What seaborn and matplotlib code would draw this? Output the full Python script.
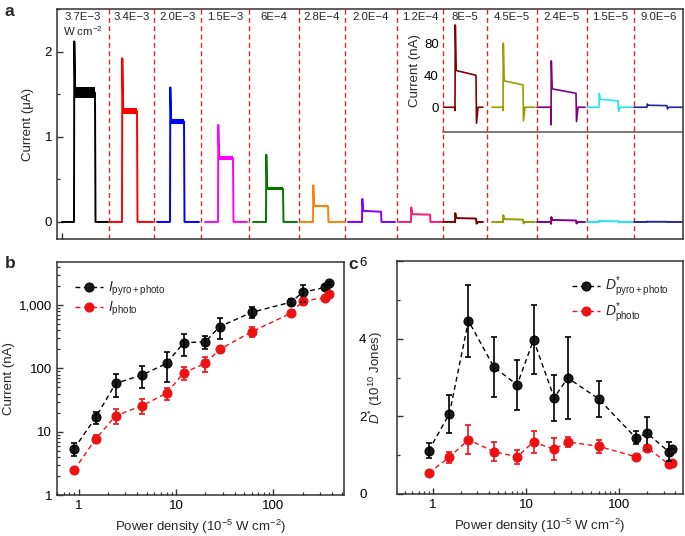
import numpy as np
import pandas as pd
import matplotlib
matplotlib.use('Agg')
from matplotlib import pyplot as plt
from matplotlib import transforms
from matplotlib.ticker import FuncFormatter, NullFormatter, MultipleLocator
import seaborn as sns

# ---- panel a : current traces, one per power density (time in s, current in uA)
seg_labels = ['3.7E\u22123', '3.4E\u22123', '2.0E\u22123', '1.5E\u22123', '6E\u22124', '2.8E\u22124',
              '2.0E\u22124', '1.2E\u22124', '8E\u22125', '4.5E\u22125', '2.4E\u22125', '1.5E\u22125',
              '9.0E\u22126']
seg_edges = [52, 97, 144, 192, 242, 288, 340, 386, 430, 480, 530, 577]
t_start = [5, 52, 100, 148, 196, 244, 291, 342, 386, 435, 480, 530, 577]
t_on = [17, 65, 113, 161, 209, 256, 305, 354, 398, 446, 494, 542, 590]
t_off = [38, 80, 127, 176, 226, 271, 324, 373, 419, 466, 519, 561, 610]
t_end = [51, 96, 142, 190, 240, 288, 338, 386, 426, 478, 528, 576, 626]
i_spike = [2.12, 1.92, 1.58, 1.14, 0.79, 0.43, 0.27, 0.17, 0.103, 0.080, 0.058, 0.017, 0.004]
i_settle = [1.55, 1.32, 1.19, 0.76, 0.40, 0.19, 0.13, 0.092, 0.046, 0.033, 0.023, 0.010, 0.0025]
i_plateau = [1.52, 1.30, 1.18, 0.75, 0.39, 0.185, 0.12, 0.086, 0.040, 0.028, 0.0175, 0.008, 0.002]
i_dip_on = [0, 0, 0, 0, 0, 0, 0, 0, -0.004, -0.004, -0.022, 0, 0]
i_dip_off = [0, 0, 0, 0, 0, 0, 0, 0, -0.020, -0.017, -0.018, -0.005, -0.002]
i_noise = [0.065, 0.035, 0.03, 0.02, 0.015, 0.01, 0, 0, 0, 0, 0, 0, 0]
seg_colors = ['#000000', '#ff0000', '#0000ff', '#ff00ff', '#007800', '#ff8000', '#8000ff',
              '#ff1a75', '#800000', '#999900', '#800080', '#22e6e6', '#262699']

# ---- panels b, c : power density (1e-5 W cm-2)
power = [0.9, 1.5, 2.4, 4.5, 8, 12, 20, 28, 60, 150, 200, 340, 370]
i_pyro = [5.4, 16.9, 58, 79, 120, 255, 264, 456, 770, 1110, 1590, 1910, 2210]
i_pyro_err = [1.2, 3.6, 23, 30, 60, 96, 62, 165, 150, 120, 460, 150, 100]
i_photo = [2.5, 7.7, 17.9, 25.8, 40.5, 85.5, 120, 200, 380, 740, 1160, 1310, 1480]
i_photo_err = [0.2, 1.1, 4.9, 6.7, 8.5, 19, 32, 10, 70, 30, 140, 80, 80]
d_pyro = [1.12, 2.07, 4.46, 3.27, 2.81, 3.97, 2.48, 2.99, 2.45, 1.45, 1.56, 1.09, 1.17]
d_pyro_err = [0.19, 0.49, 0.92, 0.78, 0.65, 0.89, 0.59, 1.06, 0.46, 0.17, 0.42, 0.25, 0]
d_photo = [0.54, 0.95, 1.40, 1.09, 0.96, 1.34, 1.15, 1.34, 1.23, 0.96, 1.19, 0.77, 0.79]
d_photo_err = [0, 0.14, 0.38, 0.25, 0.18, 0.28, 0.28, 0.14, 0.17, 0, 0.08, 0, 0]

sns.set_theme(style='ticks')
plt.rcParams['font.family'] = ['Liberation Sans', 'DejaVu Sans']
plt.rcParams.update({
    'mathtext.fontset': 'custom', 'mathtext.rm': 'Liberation Sans',
    'mathtext.it': 'Liberation Sans:italic', 'mathtext.bf': 'Liberation Sans:bold',
    'axes.edgecolor': '#333333', 'axes.linewidth': 1.1,
    'xtick.direction': 'in', 'ytick.direction': 'in',
    'xtick.color': '#333333', 'ytick.color': '#333333',
    'xtick.labelcolor': 'black', 'ytick.labelcolor': 'black',
    'xtick.labelsize': 9.5, 'ytick.labelsize': 9.5, 'axes.labelsize': 9.5,
    'xtick.major.size': 4, 'ytick.major.size': 4, 'xtick.minor.size': 2.5, 'ytick.minor.size': 2.5,
    'xtick.major.width': 1, 'ytick.major.width': 1, 'xtick.minor.width': 0.9, 'ytick.minor.width': 0.9,
    'lines.dashed_pattern': [3.5, 2.5],
})

fig = plt.figure(figsize=(6.85, 5.36), dpi=100)
W, H = 685, 536


def box(l, t, r, b):
    return [l / W, 1 - b / H, (r - l) / W, (b - t) / H]


# ================= panel a
ax = fig.add_axes(box(57, 9, 683, 239))
ins = fig.add_axes(box(443, 9, 683, 132))
ins.patch.set_alpha(0)

for k in range(13):
    on, off = t_on[k], t_off[k]
    tt = [t_start[k], on, on, on + 0.3, on + 1.2, off, off + 0.5, off + 2, t_end[k]]
    ii = [0, 0, i_dip_on[k], i_spike[k], i_settle[k], i_plateau[k], i_dip_off[k], 0, 0]
    sns.lineplot(x=tt, y=ii, sort=False, estimator=None, color=seg_colors[k], lw=1.4, ax=ax)
    if i_noise[k] > 0:
        ax.fill_between([on + 1.2, off], i_plateau[k] - i_noise[k], i_plateau[k] + i_noise[k],
                        color=seg_colors[k], lw=0)
    if k >= 8:
        sns.lineplot(x=tt, y=np.array(ii) * 1000, sort=False, estimator=None,
                     color=seg_colors[k], lw=1.2, ax=ins)

for e in seg_edges:
    ax.axvline(e, color='#d42a2a', ls='--', lw=1.0, zorder=0.5)

bounds = [0] + seg_edges + [626]
trans = transforms.blended_transform_factory(ax.transData, ax.transAxes)
for k, lab in enumerate(seg_labels):
    xc = (bounds[k] + bounds[k + 1]) / 2
    ax.text(xc, 0.966, lab, transform=trans, ha='center', va='center', fontsize=8.2)
ax.text((bounds[0] + bounds[1]) / 2, 0.905, 'W cm$^{-2}$', transform=trans,
        ha='center', va='center', fontsize=8.2)

ax.set_xlim(0, 626)
ax.set_ylim(-0.2, 2.5)
ax.set_xticks([5])
ax.set_xticklabels([''])
ax.set_yticks([0, 1, 2])
ax.yaxis.set_minor_locator(MultipleLocator(0.5))
ax.set_ylabel('Current (\u03bcA)', labelpad=8)

ins.set_xlim(386, 626)
ins.set_ylim(-31, 123)
ins.set_yticks([0, 40, 80])
ins.set_xticks([])
ins.tick_params(axis='y', length=0, pad=3)
for s in ['left', 'top', 'right']:
    ins.spines[s].set_visible(False)
ins.spines['bottom'].set_color('#555555')
ins.set_ylabel('Current (nA)', labelpad=2)

# ================= panel b
axb = fig.add_axes(box(57, 262, 344, 495))
df_b = pd.DataFrame({'power': power, 'pyro': i_pyro, 'photo': i_photo})
sns.lineplot(data=df_b, x='power', y='pyro', ax=axb, color='black', linestyle='--', lw=1,
             marker='o', ms=6.5, mec='black', mfc='#1a1a1a', label=r'$I_{\mathrm{pyro+photo}}$')
sns.lineplot(data=df_b, x='power', y='photo', ax=axb, color='#ee1111', linestyle='--', lw=1,
             marker='o', ms=6.5, mec='#ee1111', label=r'$I_{\mathrm{photo}}$')
axb.errorbar(power, i_pyro, yerr=i_pyro_err, fmt='none', ecolor='black', elinewidth=1.2,
             capsize=2.5, capthick=1.2)
axb.errorbar(power, i_photo, yerr=i_photo_err, fmt='none', ecolor='#ee1111', elinewidth=1.2,
             capsize=2.5, capthick=1.2)
axb.set_xscale('log')
axb.set_yscale('log')
axb.set_xlim(0.6, 530)
axb.set_ylim(1, 4800)
axb.xaxis.set_major_formatter(FuncFormatter(lambda v, p: f'{v:g}'))
axb.yaxis.set_major_formatter(FuncFormatter(lambda v, p: f'{v:,.0f}'))
axb.xaxis.set_minor_formatter(NullFormatter())
axb.yaxis.set_minor_formatter(NullFormatter())
axb.set_xlabel('Power density (10$^{-5}$ W cm$^{-2}$)')
axb.set_ylabel('Current (nA)', labelpad=3)
axb.legend(loc='upper left', frameon=False, fontsize=10, handlelength=2.0, handletextpad=0.4,
           borderaxespad=0.9, labelspacing=0.1)

# ================= panel c
axc = fig.add_axes(box(397, 261, 683, 494))
df_c = pd.DataFrame({'power': power, 'pyro': d_pyro, 'photo': d_photo})
sns.lineplot(data=df_c, x='power', y='pyro', ax=axc, color='black', linestyle='--', lw=1,
             marker='o', ms=6.5, mec='black', mfc='#1a1a1a', label=r'$D^{*}_{\mathrm{pyro+photo}}$')
sns.lineplot(data=df_c, x='power', y='photo', ax=axc, color='#ee1111', linestyle='--', lw=1,
             marker='o', ms=6.5, mec='#ee1111', label=r'$D^{*}_{\mathrm{photo}}$')
axc.errorbar(power, d_pyro, yerr=d_pyro_err, fmt='none', ecolor='black', elinewidth=1.2,
             capsize=2.5, capthick=1.2)
axc.errorbar(power, d_photo, yerr=d_photo_err, fmt='none', ecolor='#ee1111', elinewidth=1.2,
             capsize=2.5, capthick=1.2)
axc.set_xscale('log')
axc.set_xlim(0.41, 484)
axc.set_ylim(0, 6)
axc.set_yticks([0, 2, 4, 6])
axc.yaxis.set_minor_locator(MultipleLocator(1))
axc.tick_params(axis='y', which='major', pad=22)
axc.xaxis.set_major_formatter(FuncFormatter(lambda v, p: f'{v:g}'))
axc.xaxis.set_minor_formatter(NullFormatter())
axc.set_xlabel('Power density (10$^{-5}$ W cm$^{-2}$)')
axc.set_ylabel(r'$D^{*}$ (10$^{10}$ Jones)')
axc.yaxis.set_label_coords(-0.042, 0.5)
axc.legend(loc='upper right', frameon=False, fontsize=10, handlelength=2.0, handletextpad=0.4,
           borderaxespad=0.6, labelspacing=0.1)

fig.text(0.007, 0.978, 'a', fontsize=12.5, fontweight='bold', va='center')
fig.text(0.007, 0.509, 'b', fontsize=12.5, fontweight='bold', va='center')
fig.text(0.509, 0.506, 'c', fontsize=12.5, fontweight='bold', va='center')

fig.savefig('out.png', dpi=100)
